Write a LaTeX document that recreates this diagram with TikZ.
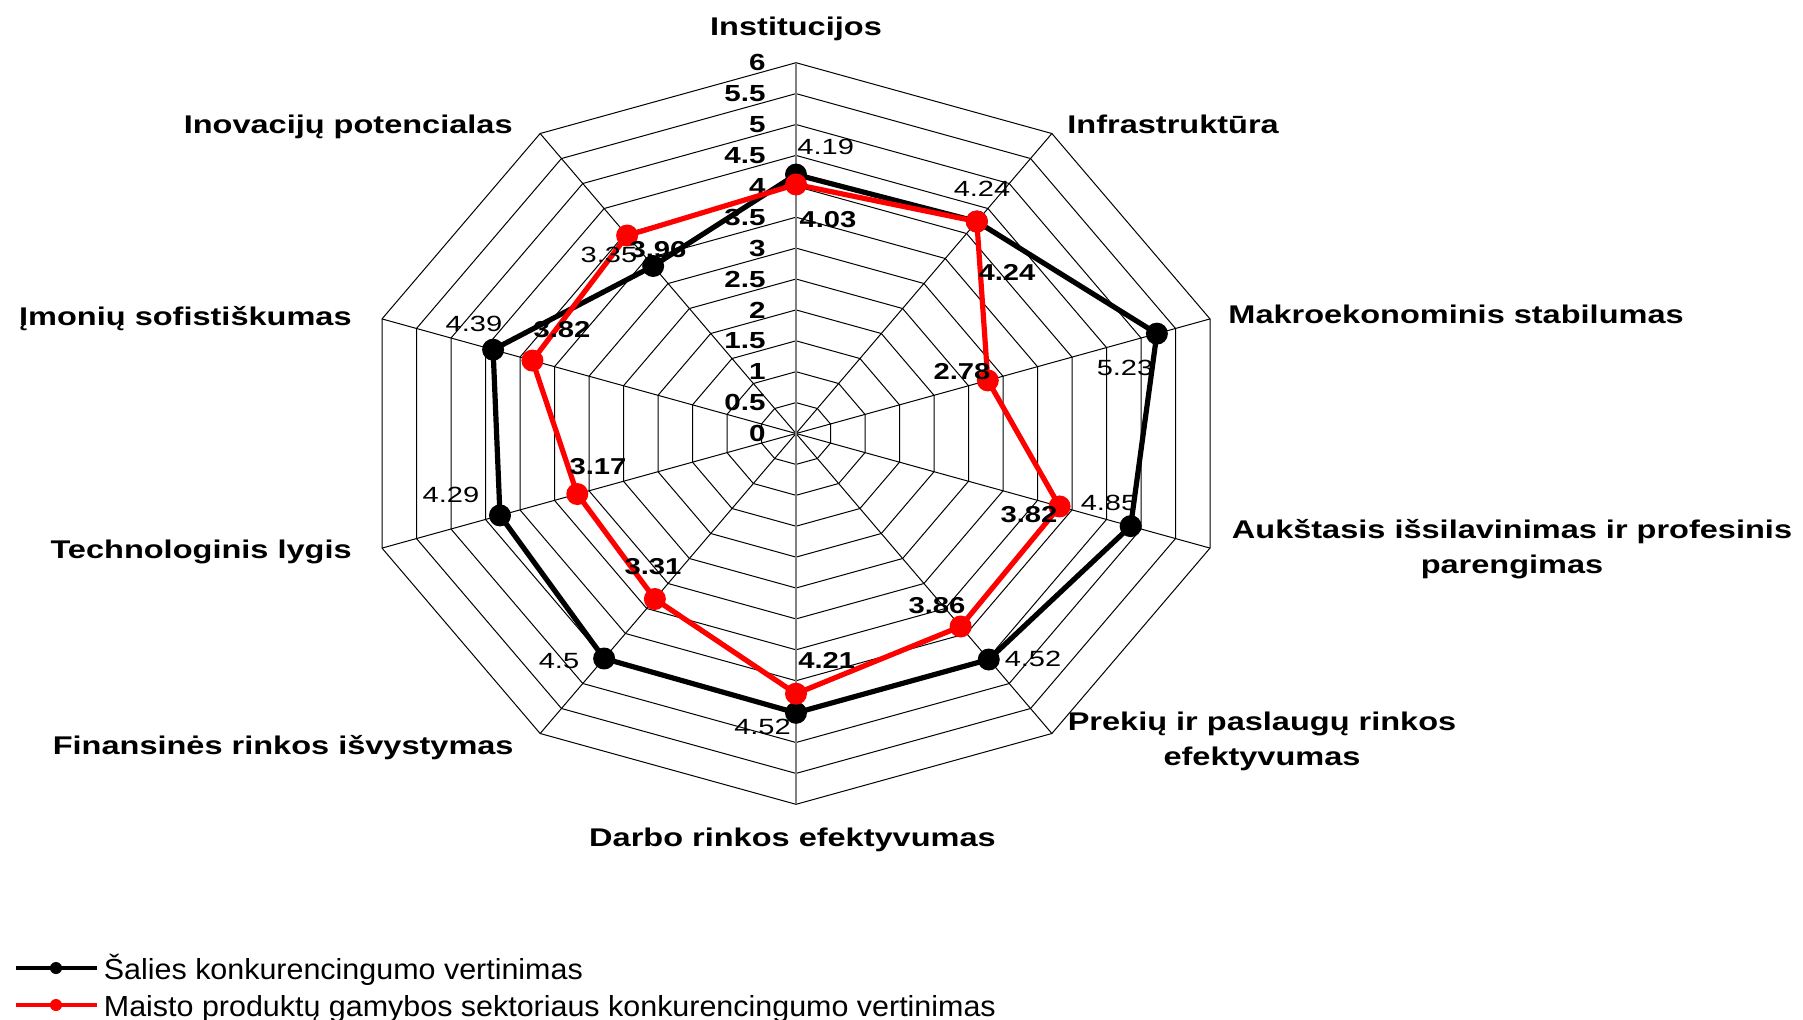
\documentclass[tikz,border=0pt]{standalone}
\usepackage{fontspec}
\setmainfont{Liberation Sans}
\newfontfamily\axf[FakeStretch=1.27]{Liberation Sans}
\newfontfamily\datf[FakeStretch=1.32]{Liberation Sans}
\newfontfamily\legf[FakeStretch=1.05]{Liberation Sans}
\definecolor{sred}{RGB}{255,0,0}
\definecolor{axgray}{RGB}{128,128,128}
\tikzset{
  gridline/.style={line width=0.5pt, black},
  axisline/.style={line width=0.75pt, axgray},
  bline/.style={line width=2.6pt, black, line join=round},
  rline/.style={line width=2.6pt, sred, line join=round},
  axlabel/.style={inner sep=0pt, font=\axf\bfseries\fontsize{12.8}{17.5}\selectfont, align=center},
  scalelab/.style={inner sep=0pt, anchor=east, font=\axf\bfseries\fontsize{11.65}{13}\selectfont},
  blab/.style={inner sep=0pt, font=\datf\fontsize{11}{13}\selectfont},
  rlab/.style={inner sep=0pt, font=\axf\bfseries\fontsize{11.5}{13}\selectfont},
  leglab/.style={inner sep=0pt, anchor=base west, font=\legf\fontsize{14.5}{17}\selectfont}
}
\begin{document}
\begin{tikzpicture}[x=0.5pt,y=-0.5pt]
\useasboundingbox (0,0) rectangle (1803,1019);
\coordinate (c) at (796,433.5);
% grid coordinates
\foreach \k in {1,...,12}{
  \foreach \i in {0,...,9}{
    \coordinate (g\k-\i) at ({796+\k*36.275*cos(90-36*\i)},{433.5-\k*30.9*sin(90-36*\i)});
  }
}
\foreach \k in {1,...,12}{
  \draw[gridline] (g\k-0) -- (g\k-1) -- (g\k-2) -- (g\k-3) -- (g\k-4) -- (g\k-5) -- (g\k-6) -- (g\k-7) -- (g\k-8) -- (g\k-9) -- cycle;
}
\foreach \i in {1,2,3,4,6,7,8,9}{
  \draw[gridline] (c) -- (g12-\i);
}
\draw[axisline] (g12-5) -- (g12-0);
% scale labels
\foreach \k/\t in {0/0,1/0.5,2/1,3/1.5,4/2,5/2.5,6/3,7/3.5,8/4,9/4.5,10/5,11/5.5,12/6}{
  \node[scalelab] (s\k) at (766,{433.5-\k*30.9}) {\t};
}
% series
\foreach \v [count=\i from 0] in {4.19,4.24,5.23,4.85,4.52,4.52,4.5,4.29,4.39,3.35}{
  \coordinate (b\i) at ({796+\v*72.55*cos(90-36*\i)},{433.5-\v*61.8*sin(90-36*\i)});
}
\foreach \v [count=\i from 0] in {4.03,4.24,2.78,3.82,3.86,4.21,3.31,3.17,3.82,3.96}{
  \coordinate (r\i) at ({796+\v*72.55*cos(90-36*\i)},{433.5-\v*61.8*sin(90-36*\i)});
}
\draw[bline] (b0) -- (b1) -- (b2) -- (b3) -- (b4) -- (b5) -- (b6) -- (b7) -- (b8) -- (b9) -- cycle;
\foreach \i in {0,...,9}{ \fill[black] (b\i) circle[radius=5.5pt]; }
\draw[rline] (r0) -- (r1) -- (r2) -- (r3) -- (r4) -- (r5) -- (r6) -- (r7) -- (r8) -- (r9) -- cycle;
\foreach \i in {0,...,9}{ \fill[sred] (r\i) circle[radius=5.5pt]; }
% axis labels
\node[axlabel, anchor=base] (a0) at (796,35) {Institucijos};
\node[axlabel, anchor=base west] (a1) at (1067,133) {Infrastruktūra};
\node[axlabel, anchor=base west] (a2) at (1228,323) {Makroekonominis stabilumas};
\node[axlabel] (a3) at (1512,549.5) {Aukštasis išsilavinimas ir profesinis\\parengimas};
\node[axlabel] (a4) at (1262,741) {Prekių ir paslaugų rinkos\\efektyvumas};
\node[axlabel, anchor=base] (a5) at (792.5,846.7) {Darbo rinkos efektyvumas};
\node[axlabel, anchor=base east] (a6) at (514,754) {Finansinės rinkos išvystymas};
\node[axlabel, anchor=base east] (a7) at (352,558) {Technologinis lygis};
\node[axlabel, anchor=base east] (a8) at (352,325) {Įmonių sofistiškumas};
\node[axlabel, anchor=base east] (a9) at (513,133) {Inovacijų potencialas};
% black data labels
\node[blab] (lb0) at (825.7,146.7) {4.19};
\node[blab] (lb1) at (982,189) {4.24};
\node[blab] (lb2) at (1125,368.3) {5.23};
\node[blab] (lb3) at (1109,503.3) {4.85};
\node[blab] (lb4) at (1033,659) {4.52};
\node[blab] (lb5) at (762.5,726.7) {4.52};
\node[blab] (lb6) at (559,661) {4.5};
\node[blab] (lb7) at (451,495) {4.29};
\node[blab] (lb8) at (474,324) {4.39};
\node[blab] (lb9) at (609,255) {3.35};
% red data labels
\node[rlab] (lr0) at (828,219.3) {4.03};
\node[rlab] (lr1) at (1007,272.5) {4.24};
\node[rlab] (lr2) at (962,371.7) {2.78};
\node[rlab] (lr3) at (1029,515) {3.82};
\node[rlab] (lr4) at (937,606) {3.86};
\node[rlab] (lr5) at (826.7,660) {4.21};
\node[rlab] (lr6) at (653,567) {3.31};
\node[rlab] (lr7) at (598,466.7) {3.17};
\node[rlab] (lr8) at (562,330) {3.82};
\node[rlab] (lr9) at (658,250) {3.96};
% legend
\coordinate (l1a) at (16,968);
\coordinate (l1b) at (97,968);
\coordinate (l1d) at (56,968);
\coordinate (l2a) at (16,1005);
\coordinate (l2b) at (97,1005);
\coordinate (l2d) at (56,1005);
\draw[line width=2.2pt, black] (l1a) -- (l1b);
\fill[black] (l1d) circle[radius=3pt];
\draw[line width=2.2pt, sred] (l2a) -- (l2b);
\fill[sred] (l2d) circle[radius=3pt];
\node[leglab] (lg1) at (103.5,979) {Šalies konkurencingumo vertinimas};
\node[leglab] (lg2) at (103.5,1016) {Maisto produktų gamybos sektoriaus konkurencingumo vertinimas};
\end{tikzpicture}
\end{document}
